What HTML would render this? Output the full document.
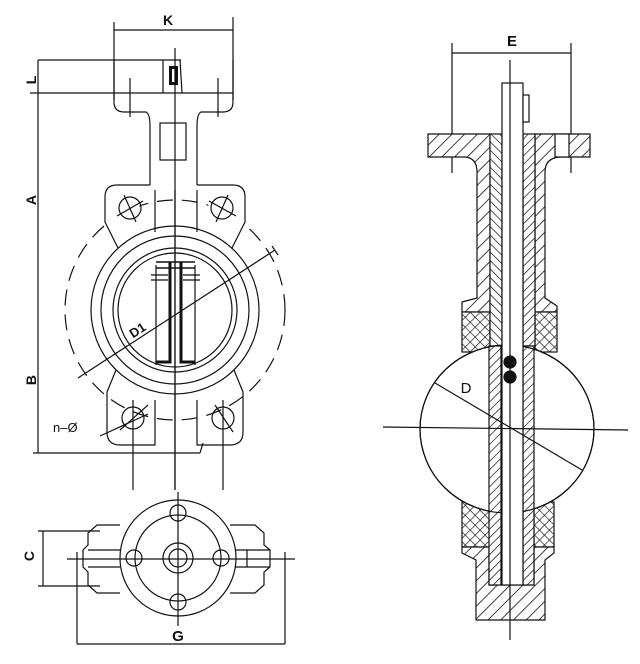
<!DOCTYPE html>
<html><head><meta charset="utf-8"><style>
html,body{margin:0;padding:0;background:#fff}
svg{display:block}
text{font-family:"Liberation Sans",sans-serif;font-weight:bold;fill:#111}
</style></head><body>
<svg width="640" height="664" viewBox="0 0 640 664" xmlns="http://www.w3.org/2000/svg">
<defs>
<pattern id="h1" patternUnits="userSpaceOnUse" width="9" height="9" patternTransform="rotate(45)">
<rect width="9" height="9" fill="#fff"/><line x1="0" y1="0" x2="0" y2="9" stroke="#111" stroke-width="1.6"/></pattern>
<pattern id="h2" patternUnits="userSpaceOnUse" width="6" height="6" patternTransform="rotate(-45)">
<rect width="6" height="6" fill="#fff"/><line x1="0" y1="0" x2="0" y2="6" stroke="#111" stroke-width="1.4"/></pattern>
<pattern id="h3" patternUnits="userSpaceOnUse" width="6" height="6" patternTransform="rotate(45)">
<rect width="6" height="6" fill="#fff"/><line x1="0" y1="0" x2="0" y2="6" stroke="#111" stroke-width="1.4"/></pattern>
<pattern id="x1" patternUnits="userSpaceOnUse" width="7" height="7" patternTransform="rotate(45)">
<rect width="7" height="7" fill="#fff"/><line x1="0" y1="0" x2="0" y2="7" stroke="#111" stroke-width="1.3"/><line x1="0" y1="0" x2="7" y2="0" stroke="#111" stroke-width="1.3"/></pattern>
</defs>
<g fill="none" stroke="#111" stroke-width="1.2">
<!-- ===== FRONT VIEW ===== -->
<line x1="114" y1="22" x2="114" y2="100"/><line x1="233" y1="17" x2="233" y2="100"/>
<line x1="114" y1="30" x2="233" y2="30"/>
<line x1="38" y1="60" x2="181" y2="60"/>
<line x1="30" y1="93" x2="233" y2="93"/>
<path d="M114,60 V102 Q114,112 124,112 H146 Q150,114 150,126 V185"/>
<path d="M233,60 V102 Q233,112 223,112 H201 Q197,114 197,126 V185"/>
<line x1="163" y1="60" x2="163" y2="93"/><line x1="180" y1="60" x2="182" y2="93"/>
<rect x="169" y="66" width="9" height="19" fill="#111" stroke="none"/>
<rect x="172" y="69" width="3" height="13" fill="#fff" stroke="none"/>
<line x1="130" y1="78" x2="130" y2="117"/><line x1="218" y1="78" x2="218" y2="117"/>
<rect x="160" y="123" width="26" height="37"/>
<line x1="175" y1="48" x2="175" y2="490"/>
<!-- body -->
<circle cx="175" cy="310" r="110" stroke-dasharray="16,9"/>
<path d="M150,185 H117 Q105,185 105,197 V222 L118,248" fill="#fff"/>
<path d="M197,185 H233 Q245,185 245,197 V222 L232,248" fill="#fff"/>
<path d="M116,370 L107,392 V432 Q107,445 120,445 H155 V400"/>
<path d="M234,370 L243,392 V432 Q243,445 230,445 H197 V400"/>
<line x1="155" y1="190" x2="155" y2="232"/><line x1="197" y1="190" x2="197" y2="232"/>
<circle cx="175" cy="310" r="84"/><circle cx="175" cy="310" r="74"/>
<circle cx="175" cy="310" r="62"/><circle cx="175" cy="310" r="57"/>
<line x1="175" y1="190" x2="175" y2="490"/>
<circle cx="130" cy="208" r="11"/><circle cx="222" cy="208" r="11"/>
<circle cx="133" cy="418" r="11"/><circle cx="223" cy="418" r="11"/>
<line x1="124" y1="195" x2="136" y2="222"/><line x1="117" y1="216" x2="143" y2="201"/>
<line x1="216" y1="222" x2="228" y2="195"/><line x1="209" y1="201" x2="236" y2="216"/>
<line x1="133" y1="400" x2="133" y2="490"/><line x1="223" y1="400" x2="223" y2="490"/>
<line x1="120" y1="430" x2="148" y2="405"/><line x1="215" y1="405" x2="233" y2="432"/>
<!-- disc -->
<path d="M156,262 H195 M156,268 H195" stroke-width="1.6"/>
<path d="M170,262 V362 H156 M181,262 V362 H195" stroke-width="3"/>
<line x1="156" y1="265" x2="156" y2="365"/><line x1="195" y1="265" x2="195" y2="365"/>
<path d="M151,275 H168 M151,280 H168 M183,275 H200 M183,280 H200"/>
<!-- D1 -->
<line x1="78" y1="378" x2="275" y2="250"/><line x1="272" y1="246" x2="278" y2="255"/>
<!-- A B -->
<line x1="38" y1="60" x2="38" y2="453"/>
<line x1="33" y1="453" x2="200" y2="453"/><line x1="200" y1="453" x2="203" y2="443"/>
<line x1="100" y1="436" x2="148" y2="414"/>
<!-- ===== BOTTOM VIEW ===== -->
<path d="M120,525 H97 L88,533 V545 L83,550 V567 L88,572 V585 L97,593 H120"/>
<path d="M230,525 H255 L264,533 V545 L270,550 V567 L264,572 V585 L255,593 H230"/>
<line x1="88" y1="550" x2="120" y2="550"/><line x1="88" y1="567" x2="120" y2="567"/>
<line x1="235" y1="550" x2="270" y2="550"/><line x1="235" y1="567" x2="270" y2="567"/>
<line x1="247" y1="550" x2="247" y2="567"/>
<circle cx="178" cy="558" r="58" fill="#fff"/><circle cx="178" cy="558" r="43"/>
<circle cx="178" cy="558" r="15"/><circle cx="178" cy="558" r="9"/>
<circle cx="178" cy="513" r="8"/><circle cx="178" cy="602" r="8"/>
<circle cx="134" cy="558" r="8"/><circle cx="221" cy="558" r="8"/>
<line x1="178" y1="492" x2="178" y2="626"/>
<line x1="67" y1="559" x2="295" y2="559"/>
<line x1="77" y1="552" x2="77" y2="644"/><line x1="285" y1="552" x2="285" y2="644"/>
<line x1="77" y1="644" x2="285" y2="644"/>
<line x1="43" y1="531" x2="43" y2="586"/>
<line x1="38" y1="531" x2="100" y2="531"/><line x1="38" y1="586" x2="100" y2="586"/>
<!-- ===== SIDE VIEW ===== -->
<line x1="452" y1="43" x2="452" y2="173"/><line x1="571" y1="43" x2="571" y2="173"/>
<line x1="452" y1="53" x2="571" y2="53"/>
<!-- body left -->
<path d="M428,134 H490 V312 H462 V302 L477,298 V172 Q477,158 465,157 H428 Z" fill="url(#h1)"/>
<!-- body right -->
<path d="M535,134 H590 V157 H560 Q545,158 545,172 V298 L557,306 V312 H535 Z" fill="url(#h1)"/>
<rect x="555" y="134" width="14" height="23" fill="#fff"/>
<!-- knurl -->
<rect x="462" y="312" width="28" height="40" fill="url(#x1)"/>
<rect x="535" y="312" width="22" height="40" fill="url(#x1)"/>
<rect x="462" y="502" width="28" height="45" fill="url(#x1)"/>
<rect x="534" y="502" width="20" height="45" fill="url(#x1)"/>
<!-- disc ellipse -->
<ellipse cx="507" cy="429" rx="87" ry="84" fill="#fff"/>
<!-- bottom body -->
<path d="M462,547 H489 V585 H534 V547 H554 V553 L545,560 V620 H476 V560 L462,553 Z" fill="url(#h1)"/>
<!-- liners -->
<rect x="490" y="134" width="12" height="212" fill="url(#h2)"/>
<rect x="523" y="134" width="12" height="212" fill="url(#h3)"/>
<rect x="489" y="346" width="12" height="239" fill="url(#h3)"/>
<rect x="523" y="346" width="11" height="239" fill="url(#h3)"/>
<ellipse cx="507" cy="429" rx="87" ry="84"/>
<!-- stem -->
<rect x="502" y="83" width="21" height="502" fill="#fff"/>
<rect x="523" y="95" width="6" height="27" fill="#fff"/>
<line x1="510" y1="60" x2="510" y2="640"/>
<line x1="383" y1="427" x2="628" y2="430"/>
<line x1="435" y1="383" x2="582" y2="470"/>
<circle cx="510" cy="362" r="6" fill="#111"/><circle cx="510" cy="377" r="6" fill="#111"/>
</g>
<text x="168" y="25" font-size="14" text-anchor="middle">K</text>
<text x="512" y="46" font-size="15" text-anchor="middle">E</text>
<text x="178" y="641" font-size="15" text-anchor="middle">G</text>
<text x="466" y="393" font-size="15" text-anchor="middle" style="font-weight:normal">D</text>
<text transform="translate(36,80) rotate(-90)" font-size="14" text-anchor="middle">L</text>
<text transform="translate(36,200) rotate(-90)" font-size="14" text-anchor="middle">A</text>
<text transform="translate(36,380) rotate(-90)" font-size="14" text-anchor="middle">B</text>
<text transform="translate(34,556) rotate(-90)" font-size="14" text-anchor="middle">C</text>
<text transform="translate(140,334) rotate(-33)" font-size="13" text-anchor="middle">D1</text>
<text x="53" y="432" font-size="13" style="font-weight:normal">n–Ø</text>
</svg>
</body></html>
